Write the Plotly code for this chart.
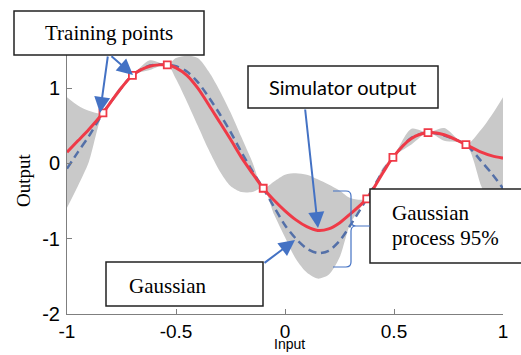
import plotly.graph_objects as go

# ---------------- data ----------------
x_grid = [-1, -0.95, -0.9, -0.835, -0.77, -0.7, -0.62, -0.54, -0.5, -0.45, -0.4,
          -0.35, -0.3, -0.25, -0.2, -0.15, -0.1, -0.05, 0.0, 0.05, 0.1, 0.15,
          0.2, 0.25, 0.3, 0.375, 0.45, 0.495, 0.58, 0.656, 0.73, 0.83, 0.9,
          0.95, 1.0]
simulator = [0.15, 0.30, 0.45, 0.67, 0.93, 1.17, 1.29, 1.31, 1.27, 1.17, 1.00,
             0.78, 0.55, 0.32, 0.08, -0.13, -0.33, -0.49, -0.63, -0.75, -0.84,
             -0.89, -0.87, -0.79, -0.67, -0.47, -0.12, 0.08, 0.33, 0.41, 0.38,
             0.25, 0.15, 0.10, 0.07]
gp_mean = [-0.07, 0.15, 0.36, 0.67, 0.93, 1.17, 1.30, 1.31, 1.29, 1.22, 1.08,
           0.88, 0.66, 0.42, 0.15, -0.10, -0.33, -0.58, -0.82, -1.00, -1.13,
           -1.19, -1.16, -1.03, -0.82, -0.47, -0.10, 0.08, 0.34, 0.41, 0.37,
           0.25, 0.03, -0.14, -0.33]
gp_upper = [0.88, 0.77, 0.70, 0.67, 0.97, 1.17, 1.37, 1.31, 1.40, 1.43, 1.40,
            1.22, 0.97, 0.68, 0.35, 0.02, -0.33, -0.24, -0.15, -0.13, -0.15,
            -0.21, -0.28, -0.36, -0.46, -0.47, -0.05, 0.08, 0.46, 0.41, 0.47,
            0.25, 0.45, 0.65, 0.88]
gp_lower = [-0.59, -0.30, 0.02, 0.67, 0.89, 1.17, 1.24, 1.31, 1.12, 0.82, 0.50,
            0.18, -0.10, -0.30, -0.38, -0.38, -0.33, -0.68, -0.98, -1.27, -1.45,
            -1.53, -1.48, -1.25, -0.80, -0.47, -0.15, 0.08, 0.25, 0.41, 0.30,
            0.25, -0.30, -0.65, -1.00]
train_x = [-0.835, -0.70, -0.54, -0.10, 0.375, 0.495, 0.656, 0.83]
train_y = [0.67, 1.17, 1.31, -0.33, -0.47, 0.08, 0.41, 0.25]

x_ticks = [-1, -0.5, 0, 0.5, 1]
x_ticktext = ["-1", "-0.5", "0", "0.5", "1"]
y_ticks = [-2, -1, 0, 1]
y_ticktext = ["-2", "-1", "0", "1"]

# ---------------- styling ----------------
W, H = 521, 355
L, R, T, B = 67, 18, 55, 41
RED = "#EF3A47"
GPBLUE = "#5470A8"
BAND = "#C9C9C9"
ARROW = "#4472C4"
SERIF = "Liberation Serif"
SANS = "Liberation Sans"


def PX(px):
    return (px - L) / (W - L - R)


def PY(py):
    return (H - B - py) / (H - T - B)


fig = go.Figure()
fig.add_trace(go.Scatter(x=x_grid, y=gp_upper, mode="lines",
                         line=dict(width=0, color=BAND, shape="spline", smoothing=0.8),
                         hoverinfo="skip", showlegend=False))
fig.add_trace(go.Scatter(x=x_grid, y=gp_lower, mode="lines", fill="tonexty",
                         fillcolor=BAND,
                         line=dict(width=0, color=BAND, shape="spline", smoothing=0.8),
                         hoverinfo="skip", showlegend=False))
fig.add_trace(go.Scatter(x=x_grid, y=gp_mean, mode="lines",
                         line=dict(width=2.5, color=GPBLUE, dash="8px,5px",
                                   shape="spline", smoothing=0.8),
                         showlegend=False))
fig.add_trace(go.Scatter(x=x_grid, y=simulator, mode="lines",
                         line=dict(width=3, color=RED, shape="spline", smoothing=0.8),
                         showlegend=False))
fig.add_trace(go.Scatter(x=train_x, y=train_y, mode="markers",
                         marker=dict(symbol="square", size=7, color="white",
                                     line=dict(color=RED, width=1.8)),
                         showlegend=False))

axis_common = dict(showline=True, linecolor="#7F7F7F", linewidth=1,
                   ticks="inside", ticklen=5, tickcolor="#7F7F7F",
                   showgrid=False, zeroline=False)
fig.update_xaxes(range=[-1, 1], tickvals=x_ticks, ticktext=x_ticktext,
                 tickfont=dict(family=SANS, size=19, color="black"),
                 ticklabelstandoff=0, **axis_common)
fig.update_yaxes(range=[-2, 1.44], tickvals=y_ticks, ticktext=y_ticktext,
                 tickfont=dict(family=SANS, size=20, color="black"),
                 ticklabelstandoff=2, **axis_common)

shapes = []
annotations = []


def box(x0, y0, x1, y1):
    shapes.append(dict(type="rect", xref="paper", yref="paper",
                       x0=PX(x0), x1=PX(x1), y0=PY(y1), y1=PY(y0),
                       fillcolor="white", line=dict(color="#222222", width=1.5),
                       layer="above"))


def text(px, py, s, family, size, xanchor="center", yanchor="middle", angle=0):
    annotations.append(dict(xref="paper", yref="paper", x=PX(px), y=PY(py),
                            text=s, showarrow=False, xanchor=xanchor,
                            yanchor=yanchor, textangle=angle,
                            font=dict(family=family, size=size, color="black")))


def arrow(tail, tip):
    annotations.append(dict(xref="paper", yref="paper", x=PX(tip[0]), y=PY(tip[1]),
                            ax=tail[0] - tip[0], ay=tail[1] - tip[1],
                            text="", showarrow=True, arrowhead=2, arrowsize=1.6,
                            arrowwidth=2, arrowcolor=ARROW, standoff=0))


# Training points
box(14, 11, 204, 55)
text(109, 33, "Training points", SERIF, 21)
arrow((108, 55), (100, 113))
arrow((110, 55), (133, 75))

# Simulator output
box(248, 66, 438, 108)
text(342, 87, "Simulator output", "Lato", 20)
arrow((305, 108), (318, 228))

# Gaussian process 95%
box(370, 189, 530, 263)
text(390, 213, "Gaussian", SERIF, 21, xanchor="left")
text(390, 238, "process 95%", SERIF, 21, xanchor="left")

# Gaussian (mean)
box(106, 262, 263, 306)
text(127, 286, "Gaussian", SERIF, 21, xanchor="left")
arrow((263, 264), (295, 240))

# brace
pts = [("M", 333, 191), ("L", 346, 191), ("Q", 351, 191, 351, 196), ("L", 351, 221),
       ("Q", 351, 226, 356, 226), ("L", 370, 226), ("M", 356, 226),
       ("Q", 351, 226, 351, 231), ("L", 351, 262), ("Q", 351, 267, 346, 267),
       ("L", 333, 267)]
path = ""
for p in pts:
    cmd = p[0]
    coords = p[1:]
    seg = cmd
    for i in range(0, len(coords), 2):
        seg += " %.5f,%.5f" % (PX(coords[i]), PY(coords[i + 1]))
    path += seg + " "
shapes.append(dict(type="path", xref="paper", yref="paper", path=path.strip(),
                   line=dict(color=ARROW, width=1.2), layer="above"))

# axis titles
text(23, 180, "Output", SERIF, 19, angle=-90)
text(289, 354, "Input", SANS, 14, yanchor="bottom")

fig.update_layout(width=W, height=H, margin=dict(l=L, r=R, t=T, b=B),
                  paper_bgcolor="white", plot_bgcolor="white",
                  shapes=shapes, annotations=annotations, showlegend=False)

fig.write_html("out.html", config={"displayModeBar": False},
               post_script="document.body.style.margin='0';"
                           "document.body.style.overflow='hidden';")
